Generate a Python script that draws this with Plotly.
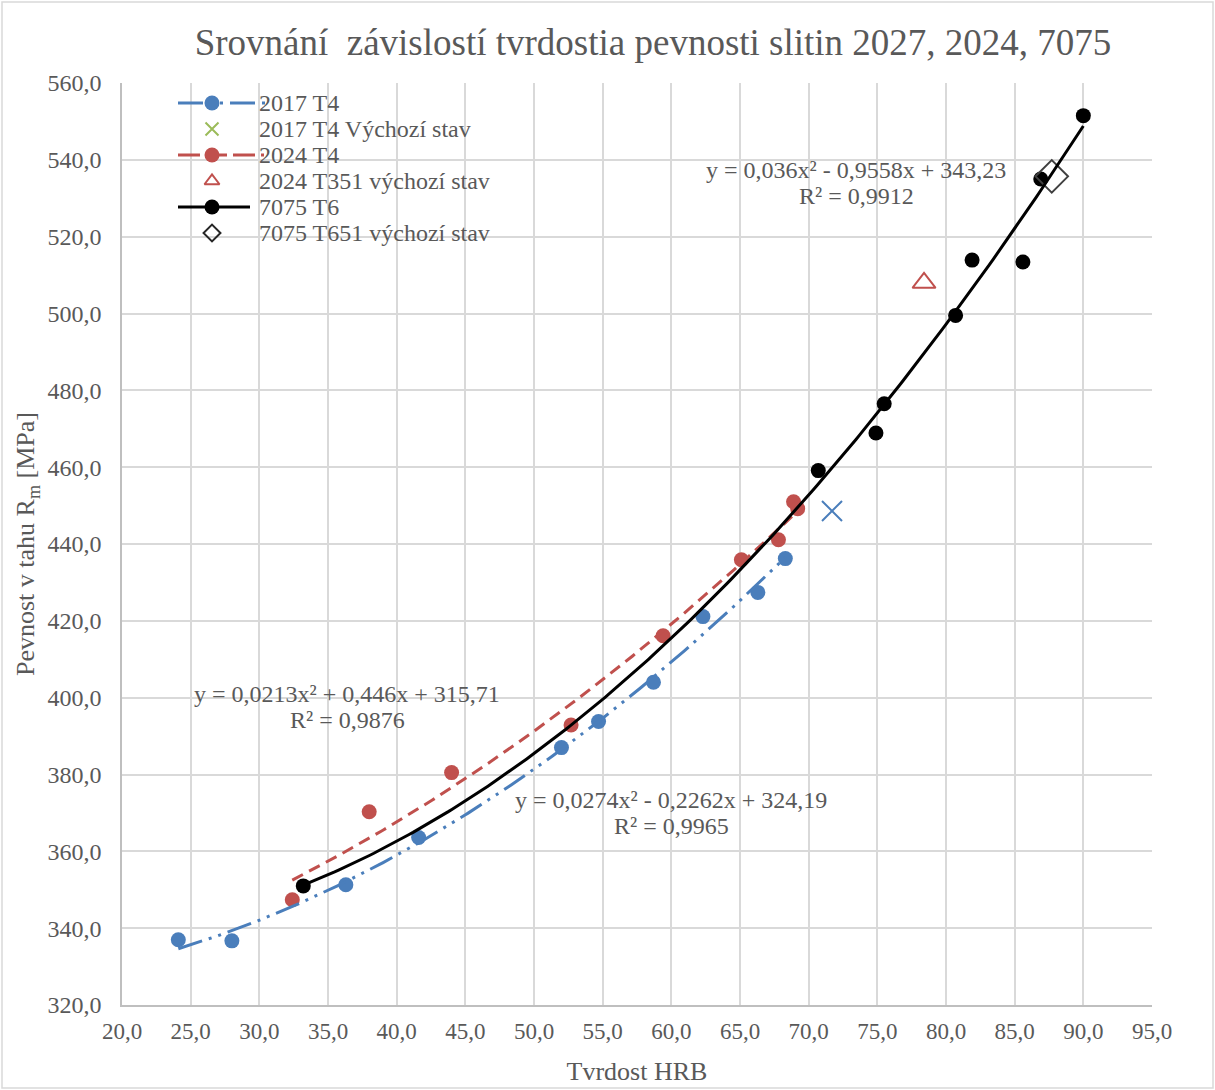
import numpy as np
import plotly.graph_objects as go

# ---- data ----
x_2017 = [24.1, 28.0, 36.3, 41.6, 52.0, 54.7, 58.7, 62.3, 66.3, 68.3]
y_2017 = [337.0, 336.7, 351.3, 363.6, 387.0, 393.8, 404.0, 421.1, 427.4, 436.2]
x_2017_init = [71.7]
y_2017_init = [448.6]

x_2024 = [32.4, 38.0, 44.0, 52.7, 59.4, 65.1, 67.8, 68.9, 69.2]
y_2024 = [347.4, 370.3, 380.5, 392.9, 416.1, 435.9, 441.1, 451.0, 449.2]
x_2024_init = [78.4]
y_2024_init = [508.0]

x_7075 = [33.2, 70.7, 74.9, 75.5, 80.7, 81.9, 85.6, 86.9, 90.0]
y_7075 = [351.0, 459.1, 468.9, 476.5, 499.5, 513.9, 513.4, 535.0, 551.5]
x_7075_init = [87.7]
y_7075_init = [535.7]

# trendline coefficients (as printed on the chart)
coef_2017 = [0.0274, -0.2262, 324.19]
coef_2024 = [0.0213, 0.446, 315.71]
coef_7075 = [0.036, -0.9558, 343.23]

eq_2017 = ["y = 0,0274x² - 0,2262x + 324,19", "R² = 0,9965"]
eq_2024 = ["y = 0,0213x² + 0,446x + 315,71", "R² = 0,9876"]
eq_7075 = ["y = 0,036x² - 0,9558x + 343,23", "R² = 0,9912"]

names = ["2017 T4", "2017 T4 Výchozí stav", "2024 T4", "2024 T351 výchozí stav",
         "7075 T6", "7075 T651 výchozí stav"]

BLUE = "#4A7EBB"
RED = "#C0504D"
GREEN = "#9BBB59"
BLACK = "#000000"
DIAM = "#404040"
FONT = "Liberation Serif"
TXT = "#595959"

DASH_BLUE = "25px,7px,3px,7px,3px,7px"
DASH_RED = "12px,7px"

# plot area geometry (pixels)
L, R, T, B = 122, 63, 83, 85
W, H = 1215, 1090
PW, PH = W - L - R, H - T - B


def trend(xs, coef):
    t = np.linspace(min(xs), max(xs), 200)
    return t, np.polyval(coef, t)


fig = go.Figure()

# data markers
fig.add_trace(go.Scatter(x=x_2017, y=y_2017, mode="markers", name=names[0], showlegend=False,
                         marker=dict(color=BLUE, size=15)))
fig.add_trace(go.Scatter(x=x_2024, y=y_2024, mode="markers", name=names[2], showlegend=False,
                         marker=dict(color=RED, size=15)))
fig.add_trace(go.Scatter(x=x_7075, y=y_7075, mode="markers", name=names[4], showlegend=False,
                         marker=dict(color=BLACK, size=15)))
fig.add_trace(go.Scatter(x=x_2017_init, y=y_2017_init, mode="markers", name=names[1],
                         showlegend=False,
                         marker=dict(symbol="x-thin", size=20, line=dict(color=BLUE, width=2))))
fig.add_trace(go.Scatter(x=x_2024_init, y=y_2024_init, mode="markers", name=names[3],
                         showlegend=False,
                         marker=dict(symbol="triangle-up-open", size=20, color=RED,
                                     line=dict(color=RED, width=2))))
fig.add_trace(go.Scatter(x=x_7075_init, y=y_7075_init, mode="markers", name=names[5],
                         showlegend=False,
                         marker=dict(symbol="diamond-open", size=25, color=DIAM,
                                     line=dict(color=DIAM, width=2))))

# trendlines
tx, ty = trend(x_2017, coef_2017)
fig.add_trace(go.Scatter(x=tx, y=ty, mode="lines", showlegend=False, hoverinfo="skip",
                         line=dict(color=BLUE, width=3, dash=DASH_BLUE)))
tx, ty = trend(x_2024, coef_2024)
fig.add_trace(go.Scatter(x=tx, y=ty, mode="lines", showlegend=False, hoverinfo="skip",
                         line=dict(color=RED, width=3, dash=DASH_RED)))
tx, ty = trend(x_7075, coef_7075)
fig.add_trace(go.Scatter(x=tx, y=ty, mode="lines", showlegend=False, hoverinfo="skip",
                         line=dict(color=BLACK, width=3)))

# ---- hand-built legend on an overlay axis measured in plot pixels ----
leg_rows = [103, 129, 155, 181, 207, 233]          # absolute row centres
leg_sym_x0, leg_mark_x, leg_text_x = 178, 212, 257
leg_style = [
    dict(line=dict(color=BLUE, width=3, dash=DASH_BLUE), x1=265,
         marker=dict(color=BLUE, size=15)),
    dict(line=None, marker=dict(symbol="x-thin", size=13, line=dict(color=GREEN, width=2))),
    dict(line=dict(color=RED, width=3, dash="22px,6px,3px,6px,12px,6px"), x1=265,
         marker=dict(color=RED, size=15)),
    dict(line=None, marker=dict(symbol="triangle-up-open", size=13, color=RED,
                                line=dict(color=RED, width=2))),
    dict(line=dict(color=BLACK, width=3), x1=250, marker=dict(color=BLACK, size=15)),
    dict(line=None, marker=dict(symbol="diamond-open", size=13, color="#262626",
                                line=dict(color="#262626", width=2))),
]
annots = []
for name, row, st in zip(names, leg_rows, leg_style):
    yy = row - T
    if st["line"] is not None:
        fig.add_trace(go.Scatter(x=[leg_sym_x0 - L, st["x1"] - L], y=[yy, yy], mode="lines",
                                 line=st["line"], xaxis="x2", yaxis="y2",
                                 showlegend=False, hoverinfo="skip"))
    fig.add_trace(go.Scatter(x=[leg_mark_x - L], y=[yy], mode="markers", marker=st["marker"],
                             xaxis="x2", yaxis="y2", showlegend=False, hoverinfo="skip"))
    annots.append(dict(xref="x2", yref="y2", x=leg_text_x - L, y=yy, text=name,
                       showarrow=False, xanchor="left", yanchor="middle",
                       font=dict(family=FONT, size=24, color=TXT)))

# trendline equations
for eq, (ax, ay) in ((eq_7075, (856, 170)), (eq_2024, (347, 694)), (eq_2017, (671, 800))):
    for i, line in enumerate(eq):
        annots.append(dict(xref="x2", yref="y2", x=ax - L, y=(ay + i * 26) - T,
                           text=line, showarrow=False, xanchor="center", yanchor="middle",
                           font=dict(family=FONT, size=24, color=TXT)))

fig.update_layout(
    width=W, height=H,
    margin=dict(l=L, r=R, t=T, b=B, autoexpand=False),
    paper_bgcolor="white", plot_bgcolor="white",
    separators=", ",
    showlegend=False,
    font=dict(family=FONT, size=24, color=TXT),
    title=dict(text="Srovnání\u00a0 závislostí tvrdostia pevnosti slitin 2027, 2024, 7075",
               x=653 / W, xanchor="center", y=1 - 42 / H, yanchor="middle",
               xref="container", yref="container",
               font=dict(family=FONT, size=37, color=TXT)),
    annotations=annots,
    shapes=[dict(type="rect", xref="paper", yref="paper",
                 x0=-(L - 2) / PW, x1=1 + (R - 2) / PW, y0=-(B - 2) / PH, y1=1 + (T - 2) / PH,
                 line=dict(color="#d9d9d9", width=1.5), layer="below")],
    xaxis2=dict(overlaying="x", range=[0, PW], visible=False, fixedrange=True),
    yaxis2=dict(overlaying="y", range=[PH, 0], visible=False, fixedrange=True),
    xaxis=dict(range=[20, 95], dtick=5, tickformat=".1f",
               showgrid=True, gridcolor="#d9d9d9", gridwidth=1.5,
               showline=True, linecolor="#bfbfbf", linewidth=1.5,
               zeroline=False, ticks="", ticklabelstandoff=5, automargin=False,
               tickfont=dict(family=FONT, size=23, color=TXT),
               title=dict(text="Tvrdost HRB", standoff=18,
                          font=dict(family=FONT, size=26, color=TXT))),
    yaxis=dict(range=[320, 560], dtick=20, tickformat=".1f",
               showgrid=True, gridcolor="#d9d9d9", gridwidth=1.5,
               showline=True, linecolor="#bfbfbf", linewidth=1.5,
               zeroline=False, ticks="", ticklabelstandoff=14, automargin=False,
               tickfont=dict(family=FONT, size=24, color=TXT),
               title=dict(text="Pevnost v tahu R<sub>m</sub> [MPa]", standoff=5,
                          font=dict(family=FONT, size=26, color=TXT))),
)

fig.write_html("out.html", config={"displayModeBar": False},
               post_script="document.body.style.margin='0';")
